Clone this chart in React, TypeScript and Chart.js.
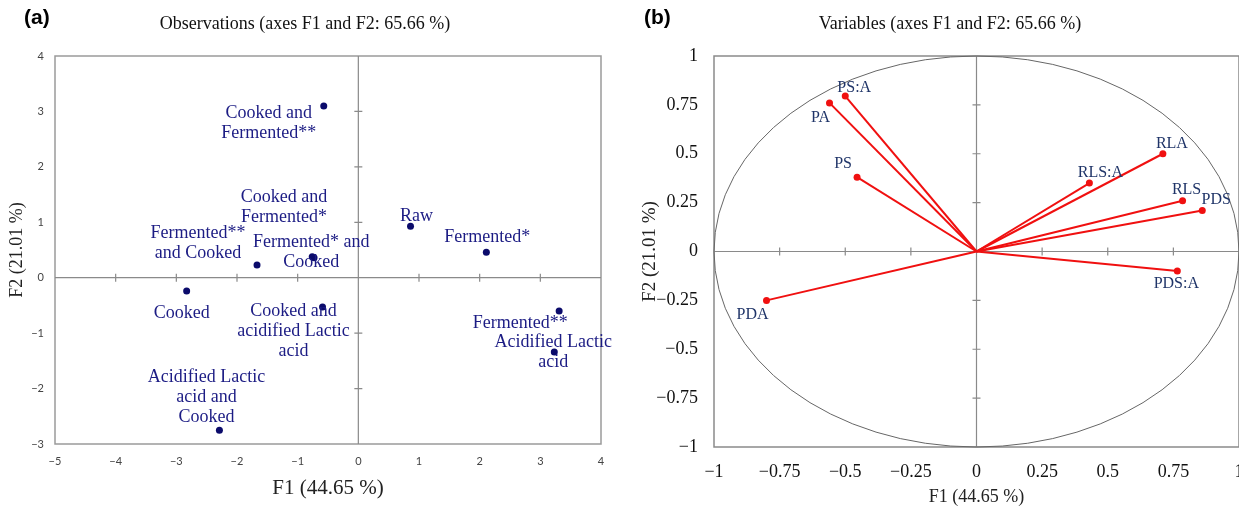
import React, { useEffect, useRef } from 'react';
import { Chart, registerables } from 'chart.js';

Chart.register(...registerables);

// ---------- Data: observations (panel a) ----------
const obsNames = [
  'Raw',
  'Fermented*',
  'Fermented**',
  'Cooked',
  'Cooked and\nFermented*',
  'Cooked and\nFermented**',
  'Fermented* and\nCooked',
  'Fermented**\nand Cooked',
  'Acidified Lactic\nacid',
  'Cooked and\nacidified Lactic\nacid',
  'Acidified Lactic\nacid and\nCooked',
];
const obsF1 = [0.86, 2.11, 3.31, -2.83, -0.73, -0.57, -0.76, -1.67, 3.23, -0.59, -2.29];
const obsF2 = [0.93, 0.46, -0.6, -0.24, 0.36, 3.1, 0.38, 0.23, -1.34, -0.53, -2.75];

// ---------- Data: variables (panel b) ----------
const varNames = ['PS:A', 'PA', 'PS', 'RLA', 'RLS:A', 'RLS', 'PDS', 'PDS:A', 'PDA'];
const varF1 = [-0.5, -0.56, -0.455, 0.71, 0.43, 0.785, 0.86, 0.765, -0.8];
const varF2 = [0.795, 0.76, 0.38, 0.5, 0.35, 0.26, 0.21, -0.1, -0.25];

// ---------- Axis ranges / labels ----------
const obsXRange = [-5, 4];
const obsYRange = [-3, 4];
const varRange = [-1, 1];
const titleA = 'Observations (axes F1 and F2: 65.66 %)';
const titleB = 'Variables (axes F1 and F2: 65.66 %)';
const xTitle = 'F1 (44.65 %)';
const yTitle = 'F2 (21.01 %)';

// ---------- Label placement (styling: pixel offset of first line centre from the mark) ----------
const obsLabelOffsets: [number, number][] = [
  [6, -10], [1, -15], [-39, 12], [-5, 22], [-30, -60], [-55, 7],
  [-1, -14], [-59, -32], [-1, -10], [-29, 4], [-13, -53],
];
const varLabelOffsets: [number, number][] = [
  [9, -8], [-9, 15], [-14, -13], [9, -10], [11, -10], [4, -11], [14, -11], [-1, 13], [-14, 14],
];

const SERIF = "'Liberation Serif', 'Times New Roman', serif";
const SANS = "'Liberation Sans', Arial, sans-serif";
const minus = (v: any) => String(v).replace('-', '\u2212');

function drawFrameAxes(chart: any, o: any) {
  const { ctx, chartArea: a, scales } = chart;
  const xs = scales.x, ys = scales.y;
  ctx.save();
  ctx.strokeStyle = o.frameColor;
  ctx.lineWidth = o.frameWidth;
  ctx.strokeRect(a.left, a.top, a.right - a.left, a.bottom - a.top);
  const x0 = xs.getPixelForValue(0);
  const y0 = ys.getPixelForValue(0);
  ctx.strokeStyle = o.axisColor;
  ctx.lineWidth = o.axisWidth;
  ctx.beginPath();
  ctx.moveTo(x0, a.top); ctx.lineTo(x0, a.bottom);
  ctx.moveTo(a.left, y0); ctx.lineTo(a.right, y0);
  xs.ticks.forEach((t: any) => {
    if (t.value === 0 || t.value === xs.min || t.value === xs.max) return;
    const p = xs.getPixelForValue(t.value);
    ctx.moveTo(p, y0 - o.tick); ctx.lineTo(p, y0 + o.tick);
  });
  ys.ticks.forEach((t: any) => {
    if (t.value === 0 || t.value === ys.min || t.value === ys.max) return;
    const p = ys.getPixelForValue(t.value);
    ctx.moveTo(x0 - o.tick, p); ctx.lineTo(x0 + o.tick, p);
  });
  ctx.stroke();
  if (o.circle) {
    ctx.strokeStyle = o.circleColor;
    ctx.lineWidth = 1;
    ctx.beginPath();
    ctx.ellipse(x0, y0, xs.getPixelForValue(1) - x0, y0 - ys.getPixelForValue(1), 0, 0, Math.PI * 2);
    ctx.stroke();
  }
  ctx.restore();
}

function drawLabels(ctx: any, text: string, px: number, py: number, off: [number, number], font: string, color: string, lh: number) {
  ctx.save();
  ctx.font = font;
  ctx.fillStyle = color;
  ctx.textAlign = 'center';
  ctx.textBaseline = 'middle';
  text.split('\n').forEach((line, k) => {
    ctx.fillText(line, px + off[0], py + off[1] + k * lh);
  });
  ctx.restore();
}

const fitX = (h: number) => (s: any) => { s.height = h; s.paddingLeft = 0; s.paddingRight = 0; };
const fitY = (w: number) => (s: any) => { s.width = w; s.paddingTop = 0; s.paddingBottom = 0; };

function obsConfig(): any {
  return {
    type: 'scatter',
    data: {
      datasets: [
        {
          data: obsF1.map((x, i) => ({ x, y: obsF2[i] })),
          pointRadius: 3.5,
          pointBackgroundColor: '#0b0b6b',
          pointBorderWidth: 0,
        },
      ],
    },
    options: {
      responsive: false,
      animation: false,
      devicePixelRatio: 1,
      events: [],
      layout: { padding: { left: 0, right: 19, top: 56, bottom: 0 } },
      plugins: { legend: { display: false }, tooltip: { enabled: false } },
      scales: {
        x: {
          type: 'linear', min: obsXRange[0], max: obsXRange[1],
          grid: { display: false, drawTicks: false }, border: { display: false },
          ticks: { stepSize: 1, padding: 11, autoSkip: false, maxRotation: 0, color: '#444', font: { family: 'Lato', size: 11 }, callback: (v: any) => minus(v) },
          title: { display: true, text: xTitle, color: '#222', font: { family: SERIF, size: 21 }, padding: { top: 0, bottom: 5 } },
          afterFit: fitX(62),
        },
        y: {
          type: 'linear', min: obsYRange[0], max: obsYRange[1],
          grid: { display: false, drawTicks: false }, border: { display: false },
          ticks: { stepSize: 1, padding: 11, autoSkip: false, color: '#444', font: { family: 'Lato', size: 11 }, callback: (v: any) => minus(v) },
          title: { display: true, text: yTitle, color: '#222', font: { family: SERIF, size: 18 }, padding: { top: 6, bottom: 0 } },
          afterFit: fitY(55),
        },
      },
    },
    plugins: [
      {
        id: 'obsDecor',
        beforeDatasetsDraw(chart: any) {
          drawFrameAxes(chart, { frameColor: '#9a9a9a', frameWidth: 1.5, axisColor: '#8a8a8a', axisWidth: 1.2, tick: 4 });
        },
        afterDatasetsDraw(chart: any) {
          const els = chart.getDatasetMeta(0).data;
          obsNames.forEach((n, i) => {
            const e = els[i];
            drawLabels(chart.ctx, n, e.x, e.y, obsLabelOffsets[i], `18px ${SERIF}`, '#1c1c84', 20);
          });
        },
      },
    ],
  };
}

function varConfig(): any {
  return {
    type: 'scatter',
    data: {
      datasets: varNames.map((n, i) => ({
        label: n,
        data: [{ x: 0, y: 0 }, { x: varF1[i], y: varF2[i] }],
        showLine: true,
        borderColor: '#f01010',
        borderWidth: 2,
        pointRadius: [0, 3.5],
        pointBackgroundColor: '#f01010',
        pointBorderWidth: 0,
      })),
    },
    options: {
      responsive: false,
      animation: false,
      devicePixelRatio: 1,
      events: [],
      layout: { padding: { left: 0, right: 21, top: 56, bottom: 0 } },
      plugins: { legend: { display: false }, tooltip: { enabled: false } },
      scales: {
        x: {
          type: 'linear', min: varRange[0], max: varRange[1],
          grid: { display: false, drawTicks: false }, border: { display: false },
          ticks: { stepSize: 0.25, padding: 14, autoSkip: false, maxRotation: 0, color: '#111', font: { family: SERIF, size: 18 }, callback: (v: any) => minus(v) },
          title: { display: true, text: xTitle, color: '#222', font: { family: SERIF, size: 18, lineHeight: 1 }, padding: { top: 0, bottom: 0 } },
          afterFit: fitX(59),
        },
        y: {
          type: 'linear', min: varRange[0], max: varRange[1],
          grid: { display: false, drawTicks: false }, border: { display: false },
          ticks: { stepSize: 0.25, padding: 16, autoSkip: false, color: '#111', font: { family: SERIF, size: 18 }, callback: (v: any) => minus(v) },
          title: { display: true, text: yTitle, color: '#222', font: { family: SERIF, size: 19 }, padding: { top: 19, bottom: 0 } },
          afterFit: fitY(94),
        },
      },
    },
    plugins: [
      {
        id: 'varDecor',
        beforeDatasetsDraw(chart: any) {
          drawFrameAxes(chart, { frameColor: '#8a8a8a', frameWidth: 1.5, axisColor: '#8a8a8a', axisWidth: 1.2, tick: 4, circle: true, circleColor: '#666' });
        },
        afterDatasetsDraw(chart: any) {
          varNames.forEach((n, i) => {
            const e = chart.getDatasetMeta(i).data[1];
            drawLabels(chart.ctx, n, e.x, e.y, varLabelOffsets[i], `16px ${SERIF}`, '#1f3468', 18);
          });
        },
      },
    ],
  };
}

function ChartCanvas({ make, left, width }: { make: () => any; left: number; width: number }) {
  const ref = useRef<HTMLCanvasElement>(null);
  useEffect(() => {
    const chart = new Chart(ref.current as HTMLCanvasElement, make());
    return () => chart.destroy();
  }, []);
  return (
    <canvas
      ref={ref}
      width={width}
      height={506}
      style={{ position: 'absolute', left, top: 0, width, height: 506, display: 'block' }}
    />
  );
}

const textBase: React.CSSProperties = { position: 'absolute', whiteSpace: 'nowrap', color: '#111' };

export default function App() {
  return (
    <div style={{ position: 'fixed', left: 0, top: 0, width: 1239, height: 506, background: '#fff', overflow: 'hidden' }}>
      <ChartCanvas make={obsConfig} left={0} width={620} />
      <ChartCanvas make={varConfig} left={620} width={640} />
      <div style={{ ...textBase, left: 24, top: 6, font: `bold 21px ${SANS}`, lineHeight: '22px', color: '#000' }}>(a)</div>
      <div style={{ ...textBase, left: 644, top: 6, font: `bold 21px ${SANS}`, lineHeight: '22px', color: '#000' }}>(b)</div>
      <div style={{ ...textBase, left: 105, width: 400, top: 13, textAlign: 'center', font: `18px ${SERIF}`, lineHeight: '20px' }}>{titleA}</div>
      <div style={{ ...textBase, left: 750, width: 400, top: 13, textAlign: 'center', font: `18px ${SERIF}`, lineHeight: '20px' }}>{titleB}</div>
    </div>
  );
}
